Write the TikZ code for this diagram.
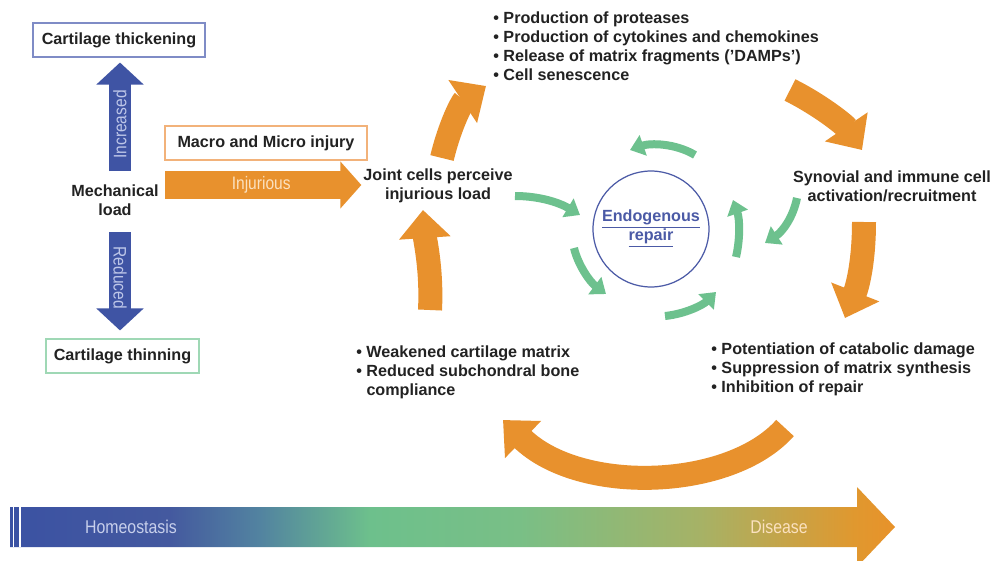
\documentclass[tikz,border=0pt]{standalone}
\usepackage{fontspec}
\setmainfont{Liberation Sans}
\usepackage{graphicx}
\usetikzlibrary{arrows.meta}

\definecolor{oarrow}{HTML}{E8912D}
\definecolor{garrow}{HTML}{6DC18E}
\definecolor{barrow}{HTML}{3F54A4}
\definecolor{ringblue}{HTML}{4B5AA6}
\definecolor{boxblue}{HTML}{7F8CC6}
\definecolor{boxgreen}{HTML}{9FD8B5}
\definecolor{boxorange}{HTML}{F2B27A}
\definecolor{txt}{HTML}{222222}
\definecolor{palebl}{HTML}{BDC6E8}
\definecolor{paleor}{HTML}{FBE1BF}
\definecolor{hsA}{HTML}{3B52A3}
\definecolor{hsB}{HTML}{44599F}
\definecolor{hsC}{HTML}{5283A0}
\definecolor{hsD}{HTML}{6DC08C}
\definecolor{hsE}{HTML}{79BF86}
\definecolor{hsF}{HTML}{A6B266}
\definecolor{hsG}{HTML}{E0982F}
\definecolor{hsH}{HTML}{E8922A}

\pgfdeclarehorizontalshading{homeodis}{100bp}{color(0bp)=(hsA); color(25bp)=(hsA);
  color(34bp)=(hsB); color(39.1bp)=(hsC); color(45.3bp)=(hsD); color(53.8bp)=(hsE);
  color(64bp)=(hsF); color(72.7bp)=(hsG); color(75bp)=(hsH); color(100bp)=(hsH)}

\newcommand{\narrowtxt}[1]{\scalebox{0.86}[1]{#1}}

\begin{document}
\begin{tikzpicture}[x=0.02cm,y=-0.02cm,
                    font=\fontsize{9.2}{10.8}\selectfont\bfseries,text=txt]
  \tikzstyle{bigarr}=[draw=oarrow,line width=0.48cm,-{Triangle[length=0.56cm,width=1cm]}]
  \tikzstyle{ringarr}=[draw=garrow,line width=0.16cm,-{Triangle[length=0.28cm,width=0.42cm]}]
  \tikzstyle{loadarr}=[draw=barrow,line width=0.46cm,-{Triangle[length=0.44cm,width=0.92cm]}]
  \tikzstyle{injarr}=[draw=oarrow,line width=0.56cm,-{Triangle[length=0.42cm,width=0.92cm]}]
  \tikzstyle{outcome}=[draw,line width=0.6pt,minimum height=0.68cm,inner sep=2pt]
  \tikzstyle{lbl}=[align=center,inner sep=1pt]
  \tikzstyle{blist}=[align=left,inner sep=0pt,anchor=west]
  \tikzstyle{inarr}=[font=\fontsize{10.3}{12}\selectfont,inner sep=0pt]

  \fill[white] (0,0) rectangle (995,561);
  \useasboundingbox (0,0) rectangle (995,561);

  % left part: mechanical load
  \node[outcome,draw=boxblue,minimum width=3.44cm]  (thick) at (119,40)  {Cartilage thickening};
  \node[outcome,draw=boxgreen,minimum width=3.06cm] (thin)  at (122.5,356) {Cartilage thinning};
  \node[outcome,draw=boxorange,minimum width=4.04cm] (macro) at (266,143) {Macro and Micro injury};
  \node[lbl] (mech)  at (115,200) {Mechanical\\load};
  \node[lbl] (joint) at (438,186) {Joint cells perceive\\injurious load};

  \coordinate (incbase) at (120,171);
  \coordinate (redbase) at (120,232);
  \coordinate (injbase) at (165,185);

  \draw[loadarr,shorten >=0.1cm] (incbase) -- node[inarr,text=palebl,rotate=90,pos=0.41] {\narrowtxt{Increased}} (incbase |- thick.south);
  \draw[loadarr,shorten >=0.16cm] (redbase) -- node[inarr,text=palebl,rotate=-90,pos=0.43] {\narrowtxt{Reduced}} (redbase |- thin.north);
  \draw[injarr] (injbase) -- node[inarr,text=paleor,pos=0.49] {\narrowtxt{Injurious}} (injbase -| joint.west);

  % the cycle
  \node[blist] (harm) at (493,46.5) {\textbullet\ Production of proteases\\
    \textbullet\ Production of cytokines and chemokines\\
    \textbullet\ Release of matrix fragments ('DAMPs')\\
    \textbullet\ Cell senescence};
  \node[lbl] (syn) at (892,186) {Synovial and immune cell\\activation/recruitment};
  \node[blist] (cat) at (711,369) {\textbullet\ Potentiation of catabolic damage\\
    \textbullet\ Suppression of matrix synthesis\\
    \textbullet\ Inhibition of repair};
  \node[blist] (weak) at (356,372) {\textbullet\ Weakened cartilage matrix\\
    \textbullet\ Reduced subchondral bone\\
    \phantom{\textbullet\ }compliance};

  \coordinate (o1a) at (442,158);  \coordinate (o1b) at (486,86);
  \coordinate (o2a) at (790,90);   \coordinate (o2b) at (862,150);
  \coordinate (o3a) at (864,222);  \coordinate (o3b) at (845,318);
  \coordinate (o4a) at (785,428);  \coordinate (o4b) at (503,420);
  \coordinate (o5a) at (430,310);  \coordinate (o5b) at (423,210);

  \draw[bigarr] (o1a) .. controls (450,125) and (462,102) .. (o1b);
  \draw[bigarr] (o2a) .. controls (820,105) and (845,125) .. (o2b);
  \draw[bigarr] (o3a) .. controls (864,260) and (858,285) .. (o3b);
  \draw[bigarr] (o4a) .. controls (730,490) and (580,495) .. (o4b);
  \draw[bigarr] (o5a) .. controls (432,270) and (425,240) .. (o5b);

  % endogenous repair
  \node[circle,draw=ringblue,line width=0.7pt,minimum size=2.32cm,text=ringblue,align=center,inner sep=0pt]
    (repair) at (651,229) {\underline{Endogenous}\\\underline{repair}};

  \coordinate (g1a) at (695,155); \coordinate (g1b) at (630,150);
  \coordinate (g2a) at (736,257); \coordinate (g2b) at (733,200);
  \coordinate (g3a) at (665,316); \coordinate (g3b) at (716,292);
  \coordinate (g4a) at (574,248); \coordinate (g4b) at (606,294);
  \coordinate (g5a) at (515,196); \coordinate (g5b) at (580,215);
  \coordinate (g6a) at (797,198); \coordinate (g6b) at (765,243);

  \draw[ringarr] (g1a) .. controls (675,143) and (650,143) .. (g1b);
  \draw[ringarr] (g2a) .. controls (740,240) and (740,220) .. (g2b);
  \draw[ringarr] (g3a) .. controls (685,314) and (703,305) .. (g3b);
  \draw[ringarr] (g4a) .. controls (578,265) and (590,282) .. (g4b);
  \draw[ringarr] (g5a) .. controls (540,196) and (560,203) .. (g5b);
  \draw[ringarr] (g6a) .. controls (793,218) and (782,232) .. (g6b);

  % homeostasis -> disease
  \shade[shading=homeodis] (10,507) -- (857,507) -- (857,487) -- (895,527)
    -- (857,567) -- (857,547) -- (10,547) -- cycle;
  \draw[white,line width=0.035cm] (13.5,507) -- (13.5,547) (20,507) -- (20,547);
  \node[inarr,font=\fontsize{10.5}{12}\selectfont,text=palebl!85!white] (homeo) at (131,527) {\narrowtxt{Homeostasis}};
  \node[inarr,font=\fontsize{10.5}{12}\selectfont,text=paleor] (dis) at (779,527) {\narrowtxt{Disease}};
\end{tikzpicture}
\end{document}
